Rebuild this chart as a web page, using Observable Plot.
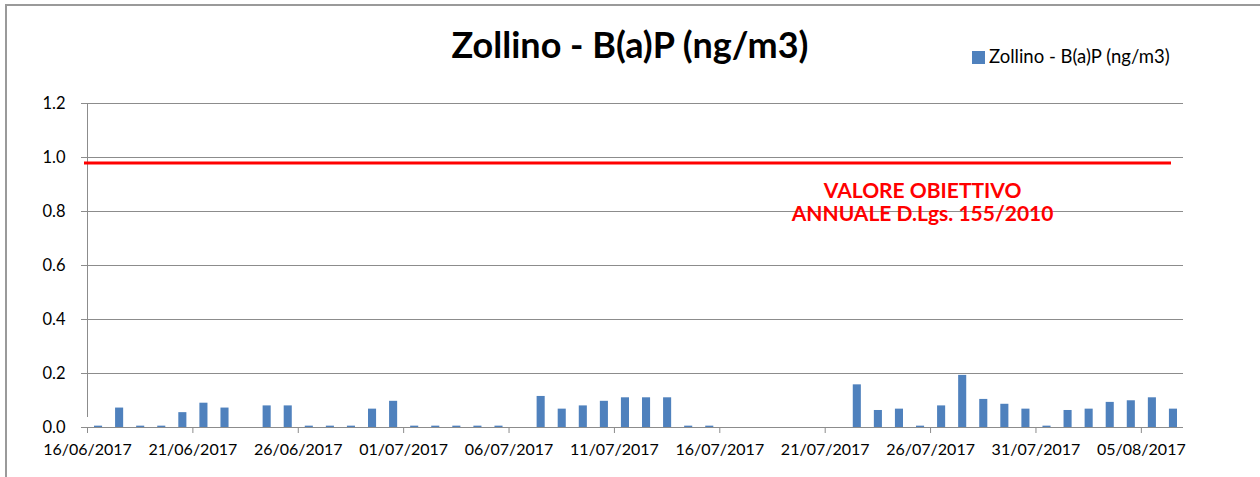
<!DOCTYPE html>
<html>
<head>
<meta charset="utf-8">
<script src="https://cdn.jsdelivr.net/npm/d3@7"></script>
<script src="https://cdn.jsdelivr.net/npm/@observablehq/plot@0.6"></script>
<style>
  html, body { margin: 0; padding: 0; background: #fff; }
  #wrap { position: relative; width: 1260px; height: 477px; overflow: hidden; font-family: Lato, "Open Sans", sans-serif; }
  #border { position: absolute; left: 5px; top: 4px; width: 1300px; height: 520px; border-top: 2px solid #9a9a9a; border-left: 2px solid #9a9a9a; }
  #title { position: absolute; left: 0; width: 1260px; top: 26px; text-align: center; font-size: 36px; font-weight: 700; line-height: 1; color: #000; }
  #legend { position: absolute; left: 972px; top: 47px; font-size: 18.5px; line-height: 1; color: #000; white-space: nowrap; }
  #legend .sw { display: inline-block; width: 13px; height: 13px; background: #4f81bd; vertical-align: -1px; margin-right: 4px; }
  #chart { position: absolute; left: 0; top: 0; }
</style>
</head>
<body>
<div id="wrap">
  <div id="chart"></div>
  <div id="border"></div>
  <div id="title"></div>
  <div id="legend"><span class="sw"></span><span class="lt"></span></div>
</div>
<script>
// ---- data ----
const chartTitle = "Zollino - B(a)P (ng/m3)";
const seriesName = "Zollino - B(a)P (ng/m3)";
const dates = [
  "16/06/2017","17/06/2017","18/06/2017","19/06/2017","20/06/2017","21/06/2017","22/06/2017","23/06/2017",
  "24/06/2017","25/06/2017","26/06/2017","27/06/2017","28/06/2017","29/06/2017","30/06/2017",
  "01/07/2017","02/07/2017","03/07/2017","04/07/2017","05/07/2017","06/07/2017","07/07/2017","08/07/2017",
  "09/07/2017","10/07/2017","11/07/2017","12/07/2017","13/07/2017","14/07/2017","15/07/2017","16/07/2017",
  "17/07/2017","18/07/2017","19/07/2017","20/07/2017","21/07/2017","22/07/2017","23/07/2017","24/07/2017",
  "25/07/2017","26/07/2017","27/07/2017","28/07/2017","29/07/2017","30/07/2017","31/07/2017",
  "01/08/2017","02/08/2017","03/08/2017","04/08/2017","05/08/2017","06/08/2017"
];
const values = [
  0.005, 0.072, 0.005, 0.005, 0.055, 0.090, 0.072, null,
  0.080, 0.080, 0.005, 0.005, 0.005, 0.068, 0.097,
  0.005, 0.005, 0.005, 0.005, 0.005, null, 0.115, 0.068,
  0.080, 0.097, 0.110, 0.110, 0.110, 0.005, 0.005, null,
  null, null, null, null, null, 0.158, 0.063, 0.068,
  0.005, 0.080, 0.193, 0.104, 0.086, 0.068, 0.005,
  0.063, 0.068, 0.093, 0.099, 0.110, 0.068
];
const xTickLabels = ["16/06/2017","21/06/2017","26/06/2017","01/07/2017","06/07/2017","11/07/2017",
                     "16/07/2017","21/07/2017","26/07/2017","31/07/2017","05/08/2017"];
const xAxisEnd = "07/08/2017";
const yTicks = [0, 0.2, 0.4, 0.6, 0.8, 1.0, 1.2];
const limitValue = 0.98;
const limitLabel = "VALORE OBIETTIVO\nANNUALE D.Lgs. 155/2010";
const limitLabelDate = "26/07/2017";

// ---- build ----
const parse = d3.utcParse("%d/%m/%Y");
const fmt = d3.utcFormat("%d/%m/%Y");
const rows = dates.map((d, i) => ({date: parse(d), next: d3.utcDay.offset(parse(d), 1), value: values[i]}))
                  .filter(r => r.value != null);
const xStart = parse(dates[0]);
const xEnd = parse(xAxisEnd);

document.querySelector("#title").textContent = chartTitle;
document.querySelector("#legend .lt").textContent = seriesName;

const grey = "#8c8c8c";
const chart = Plot.plot({
  width: 1260,
  height: 477,
  marginLeft: 87,
  marginRight: 77,
  marginTop: 103,
  marginBottom: 50,
  style: {fontFamily: "Lato, 'Open Sans', sans-serif", fontSize: "16px", color: "#000", background: "transparent"},
  x: {type: "utc", domain: [xStart, xEnd]},
  y: {domain: [0, 1.2]},
  marks: [
    Plot.gridY(yTicks, {stroke: grey, strokeOpacity: 1, strokeWidth: 1}),
    Plot.axisY({ticks: yTicks, tickFormat: d3.format(".1f"), tickSize: 6, tickPadding: 16, stroke: grey, fill: "#000", fontSize: 16.5, label: null}),
    Plot.axisX({ticks: xTickLabels.map(parse), tickFormat: fmt, tickSize: 6, tickPadding: 10, stroke: grey, fill: "#000", fontSize: 16, label: null}),
    Plot.rectY(rows, {x1: "date", x2: "next", y: "value", fill: "#4f81bd", insetLeft: 7, insetRight: 6}),
    Plot.ruleY([0], {stroke: grey, strokeWidth: 1, insetLeft: -6}),
    Plot.ruleX([xStart], {stroke: grey, strokeWidth: 1, y1: 0, y2: 1.2, insetTop: -10}),
    Plot.ruleY([limitValue], {stroke: "#ff0000", strokeWidth: 3, insetLeft: -3, insetRight: 12}),
    Plot.text([limitLabel], {x: () => parse(limitLabelDate), y: () => limitValue, text: d => d, dy: 39, dx: -8,
      fill: "#ff0000", fontWeight: "bold", fontSize: 21, lineHeight: 1.1, textAnchor: "middle"})
  ]
});
document.getElementById("chart").appendChild(chart);
</script>
</body>
</html>
